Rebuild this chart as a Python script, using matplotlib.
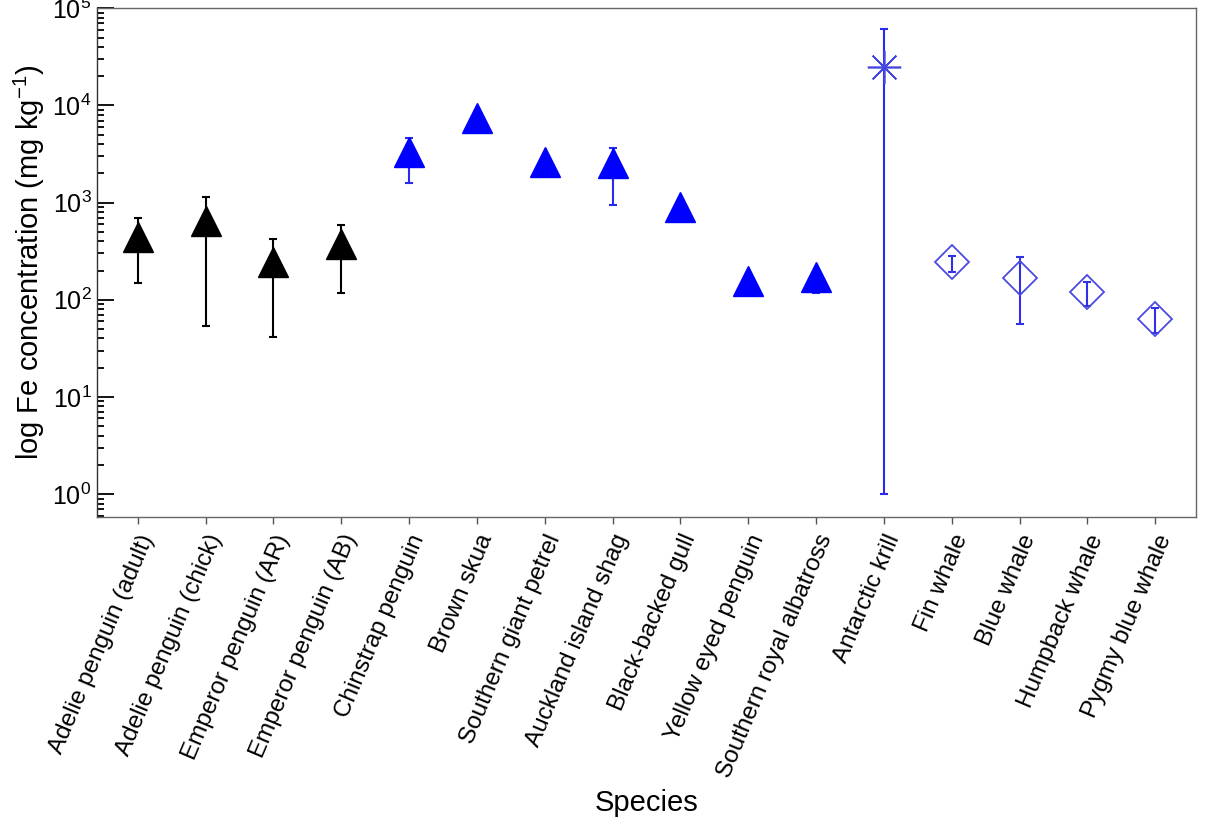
import numpy as np
import matplotlib
matplotlib.use("Agg")
from matplotlib import pyplot as plt

plt.rcParams['font.family'] = ['Liberation Sans', 'DejaVu Sans']
plt.rcParams['mathtext.fontset'] = 'custom'
plt.rcParams['mathtext.rm'] = 'Liberation Sans'
plt.rcParams['mathtext.it'] = 'Liberation Sans:italic'

# species and Fe values (mg/kg)
species = ["Adelie penguin (adult)", "Adelie penguin (chick)", "Emperor penguin (AR)",
           "Emperor penguin (AB)", "Chinstrap penguin", "Brown skua", "Southern giant petrel",
           "Auckland island shag", "Black-backed gull", "Yellow eyed penguin",
           "Southern royal albatross", "Antarctic krill", "Fin whale", "Blue whale",
           "Humpback whale", "Pygmy blue whale"]

# black triangles (0-3)
black_val = [440, 650, 245, 376]
black_hi = [700, 1150, 424, 592]
black_lo = [148, 54, 41, 117]

# blue triangles (4-10)
bird_val = [3300, 7400, 2600, 2530, 910, 155, 171]
bird_hi = [4600, 8500, 3000, 3620, 950, 165, 180]
bird_lo = [1575, 5300, 1860, 955, 870, 115, 117]

# krill (11)
krill_val = [25000]
krill_hi = [61500]
krill_lo = [1.0]

# whales (12-15)
whale_val = [245, 167, 120, 64]
whale_hi = [282, 276, 152, 82]
whale_lo = [193, 56, 86, 46]

x = np.arange(len(species))

fig = plt.figure(figsize=(12.05, 8.3), dpi=100)
ax = fig.add_axes([0.0805, 0.377, 0.912, 0.613])


def draw(xs, val, hi, lo, ecolor, **kw):
    val = np.array(val, dtype=float)
    err = [val - np.array(lo), np.array(hi) - val]
    ax.errorbar(xs, val, yerr=err, fmt='none', ecolor=ecolor, elinewidth=1.5,
                capsize=3, capthick=1.5, zorder=2)
    ax.plot(xs, val, linestyle='none', zorder=3, **kw)


draw(x[0:4], black_val, black_hi, black_lo, 'k',
     marker='^', ms=21, color='black', mec='black')
draw(x[4:11], bird_val, bird_hi, bird_lo, '#2a2aee',
     marker='^', ms=21, color='#0000ff', mec='#0000ff')
draw(x[11:12], krill_val, krill_hi, krill_lo, '#2a2aee',
     marker=(8, 2, 0), ms=24, color='#4545e0', mew=1.2)
draw(x[12:16], whale_val, whale_hi, whale_lo, '#3030e8',
     marker='D', ms=17, mfc='none', mec='#4a4ae0', mew=1.3)

ax.set_yscale('log')
ax.set_ylim(0.58, 1e5)
ax.set_xlim(-0.6, 15.6)

ax.set_xticks(x)
ax.set_xticklabels(species, rotation=67, ha='right', va='top',
                   rotation_mode='anchor', fontsize=17.5)
ax.tick_params(axis='x', direction='out', length=5, width=1, color='#555555', pad=5)
ax.tick_params(axis='y', which='major', direction='in', length=12, width=1.3,
               labelsize=18, pad=4)
ax.tick_params(axis='y', which='minor', direction='in', length=5, width=1.3)
ax.yaxis.set_minor_locator(matplotlib.ticker.LogLocator(subs=np.arange(2, 10)))
ax.yaxis.set_minor_formatter(matplotlib.ticker.NullFormatter())

for s in ax.spines.values():
    s.set_color('#666666')
    s.set_linewidth(1)
ax.spines['left'].set_color('#333333')

ax.set_ylabel("log Fe concentration (mg kg$^{-1}$)", fontsize=21, labelpad=4)
ax.set_xlabel("Species", fontsize=21, labelpad=6)

fig.savefig("out.png", dpi=100)
